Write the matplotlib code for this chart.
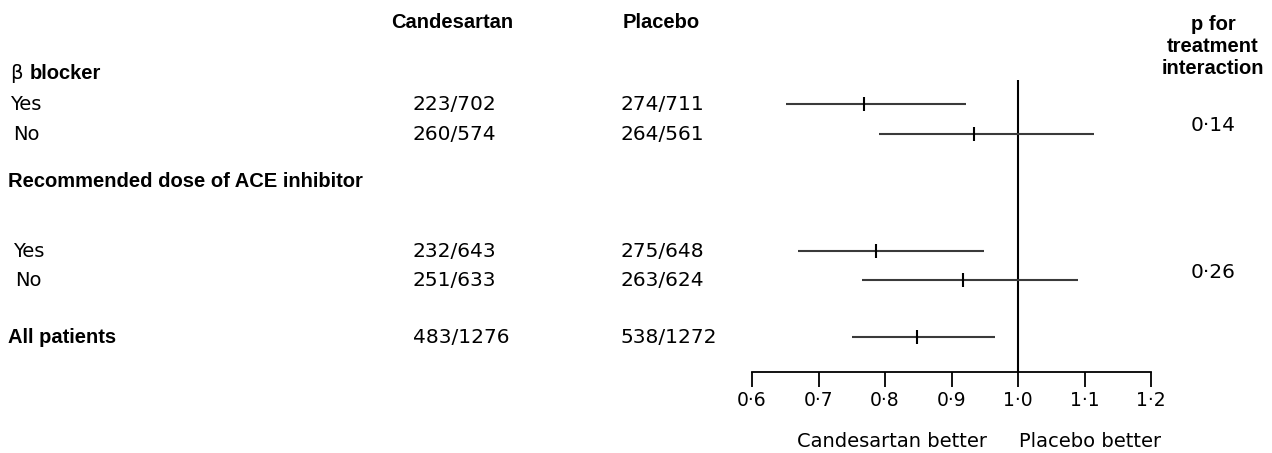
import matplotlib
matplotlib.use("Agg")
import matplotlib.pyplot as plt
import matplotlib.transforms as mtransforms
from matplotlib.ticker import FuncFormatter

# Data
row_labels = ["Yes", "No", "Yes", "No", "All patients"]
candesartan = ["223/702", "260/574", "232/643", "251/633", "483/1276"]
placebo = ["274/711", "264/561", "275/648", "263/624", "538/1272"]
hazard = [0.768, 0.934, 0.786, 0.917, 0.848]
ci_low = [0.651, 0.791, 0.669, 0.765, 0.750]
ci_high = [0.922, 1.114, 0.949, 1.090, 0.965]
p_values = ["0·14", "0·26"]
x_ticks = [0.6, 0.7, 0.8, 0.9, 1.0, 1.1, 1.2]

# Layout (row units, pixels)
row_y = [1.0, 2.0, 5.9, 6.87, 8.77]
label_x = [10, 13, 13, 15, 8]
p_y = [1.73, 6.6]
W, H = 1272, 453

REG = ["DejaVu Sans"]
BOLD = ["Liberation Sans", "DejaVu Sans"]

fig = plt.figure(figsize=(W / 100, H / 100), dpi=100)
ax = fig.add_axes([752 / W, 1 - 372 / H, (1151 - 752) / W, (372 - 80) / H])
ax.set_xlim(0.6, 1.2)
ax.set_ylim(9.93, 0.2)
for s in ["top", "right", "left"]:
    ax.spines[s].set_visible(False)
ax.spines["bottom"].set_linewidth(1.3)
ax.set_yticks([])
ax.set_xticks(x_ticks)
ax.xaxis.set_major_formatter(FuncFormatter(lambda v, p: f"{v:.1f}".replace(".", "·")))
ax.tick_params(axis="x", direction="out", length=10.5, width=1.3, pad=3.5, labelsize=13.5)
for lab in ax.get_xticklabels():
    lab.set_family(REG)

# Reference line and confidence intervals
ax.axvline(1.0, color="black", lw=1.5)
ax.hlines(row_y, ci_low, ci_high, color="#3a3a3a", lw=1.5)
ax.plot(hazard, row_y, ls="none", marker="|", ms=10, mew=1.5, color="black")

tr = mtransforms.blended_transform_factory(fig.transFigure, ax.transData)


def put(x, y, s, bold=False, ha="left", size=None, **kw):
    if size is None:
        size = 14.5 if bold else 14
    ax.text(x / W, y, s, transform=tr, clip_on=False, ha=ha, va="center",
            family=BOLD if bold else REG,
            fontweight="bold" if bold else "normal",
            fontsize=size, **kw)


# Column headers
put(452, -1.73, "Candesartan", bold=True, ha="center")
put(623, -1.73, "Placebo", bold=True)
put(1213, -0.9, "p for\ntreatment\ninteraction", bold=True, ha="center",
    linespacing=1.2)

# Group headers
put(10, -0.03, "β")
put(30, -0.03, "blocker", bold=True)
put(8, 3.57, "Recommended dose of ACE inhibitor", bold=True)

for i in range(len(row_labels)):
    put(label_x[i], row_y[i], row_labels[i], bold=(i == len(row_labels) - 1))
    put(413, row_y[i], candesartan[i], size=14.5)
    put(621, row_y[i], placebo[i], size=14.5)

for i in range(len(p_values)):
    put(1213, p_y[i], p_values[i], ha="center", size=14.5)

put(892, 12.23, "Candesartan better", ha="center")
put(1090, 12.23, "Placebo better", ha="center")

fig.savefig("out.png", dpi=100)
